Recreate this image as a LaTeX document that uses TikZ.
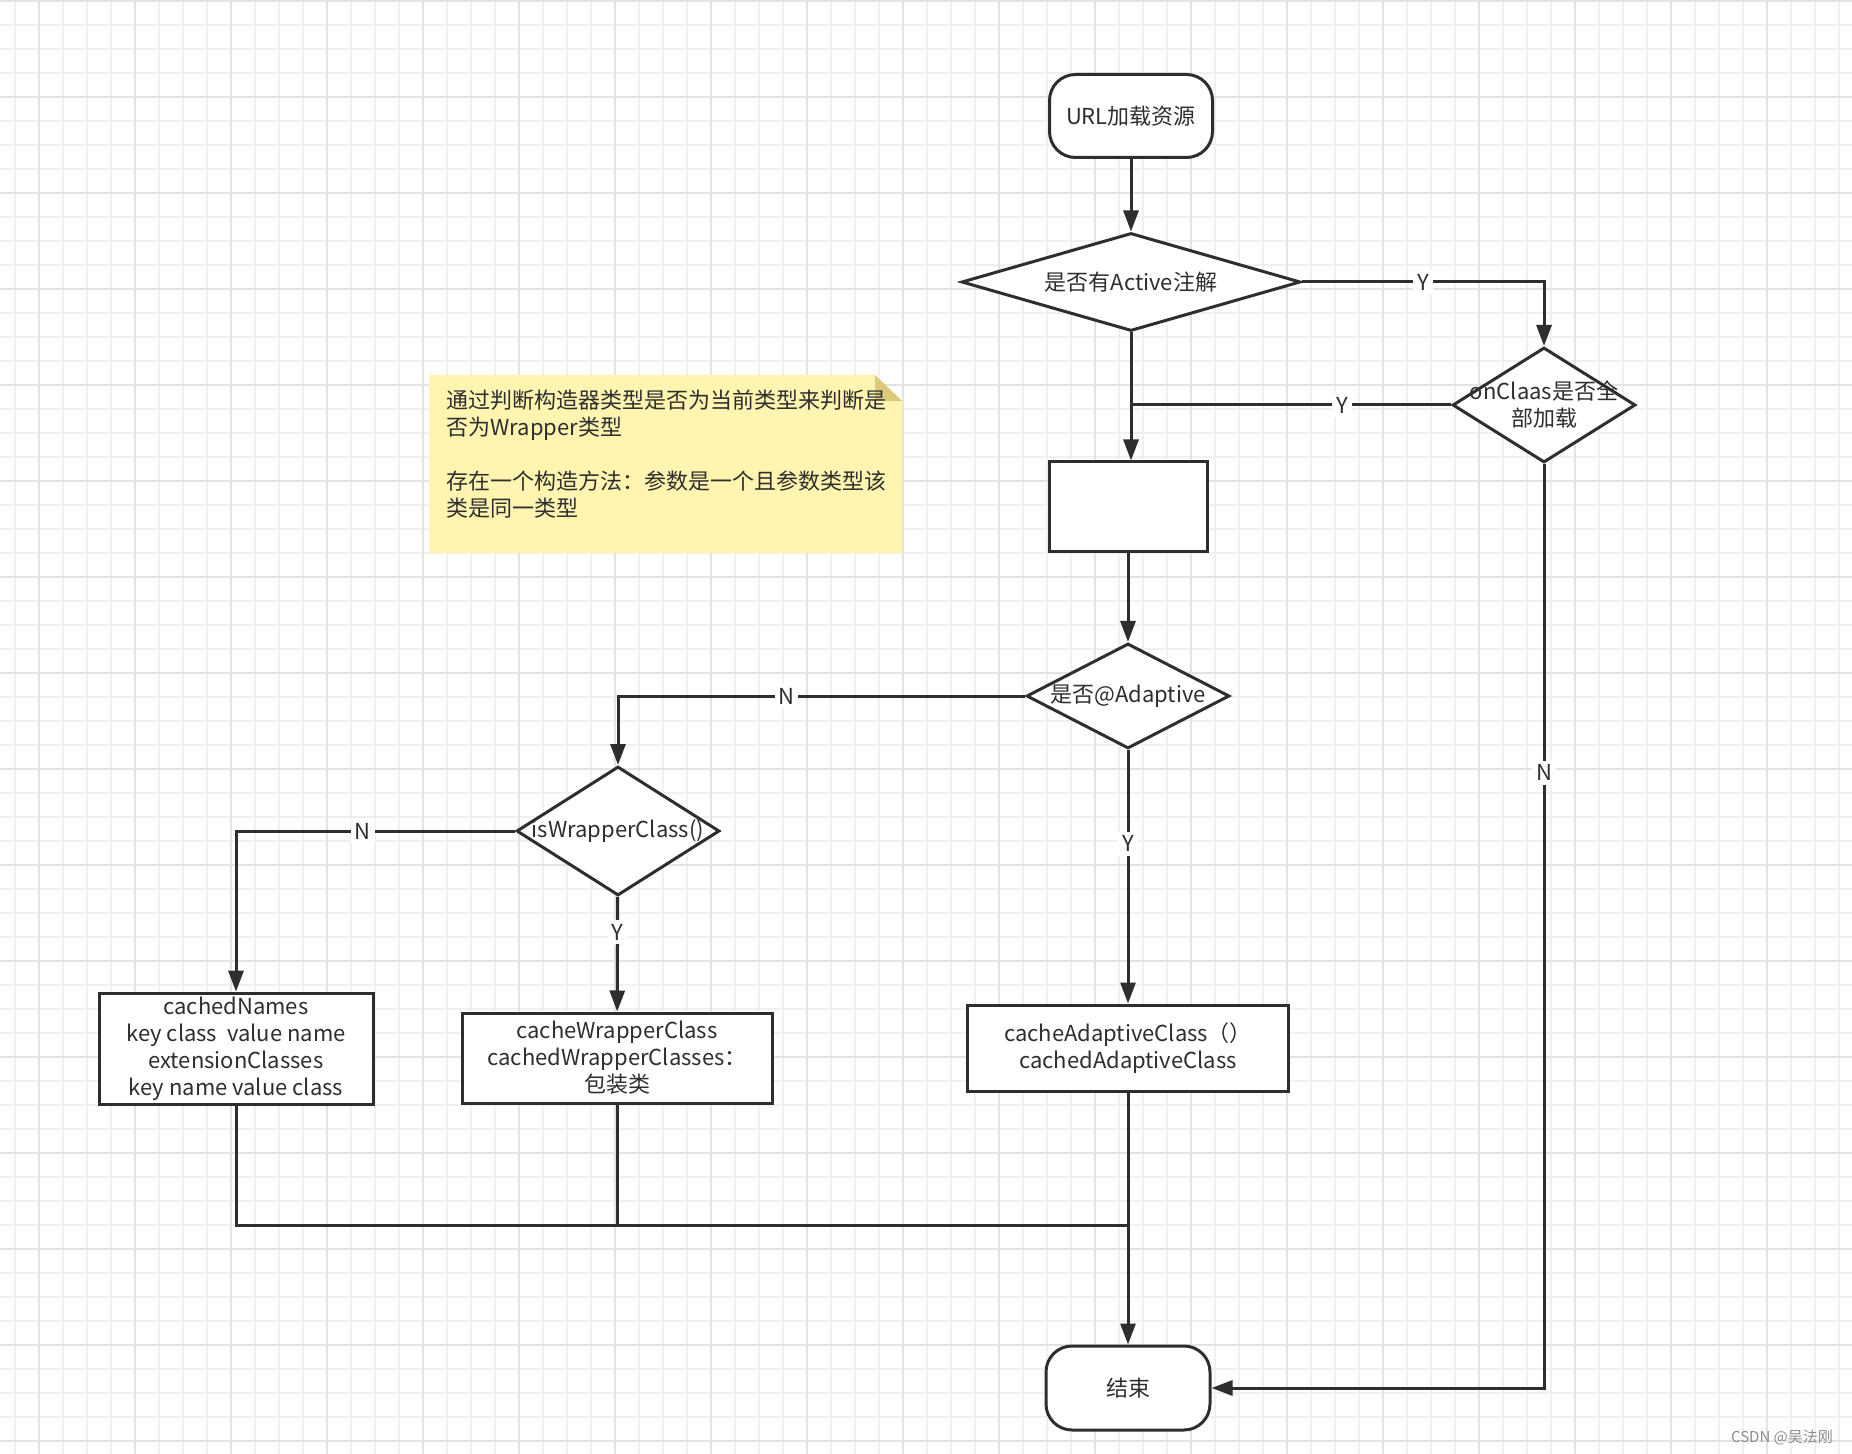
\documentclass[tikz,border=0pt]{standalone}
\usepackage{fontspec}
\setmainfont{Noto Sans CJK SC}
\usepackage{xcolor}
\usetikzlibrary{shapes,arrows.meta,positioning,calc}
\definecolor{linec}{HTML}{2E2E2E}
\definecolor{notefill}{HTML}{FFF4B0}
\definecolor{notefold}{HTML}{DCC97A}

\begin{document}
\begin{tikzpicture}[x=0.5pt,y=-0.5pt,
    font=\fontsize{11}{13.5}\selectfont, text=linec,
    minorgrid/.style={draw=black!6, line width=1pt},
    majorgrid/.style={draw=black!11, line width=1pt},
    shapeline/.style={draw=linec, line width=1.5pt, fill=white, align=center},
    terminal/.style={shapeline, rectangle, rounded corners=13pt},
    process/.style={shapeline, rectangle, inner sep=2pt},
    decision/.style={shapeline, diamond, inner sep=0pt},
    inside/.style={label={[align=center, inner sep=0pt]center:#1}},
    flow/.style={draw=linec, line width=1.5pt, -{Triangle[length=10.5pt,width=7.5pt]}},
    joinline/.style={draw=linec, line width=1.5pt},
    lbl/.style={fill=white, inner sep=2pt}]
    \useasboundingbox (0,0) rectangle (1852,1454);

    % Grid
    \fill [white] (0,0) rectangle (1852,1454);
    \foreach \gx in {15,39,...,1852} \draw [minorgrid] (\gx,0) -- (\gx,1454);
    \foreach \gy in {1,25,...,1454} \draw [minorgrid] (0,\gy) -- (1852,\gy);
    \foreach \gx in {39,135,...,1852} \draw [majorgrid] (\gx,0) -- (\gx,1454);
    \foreach \gy in {1,97,...,1454} \draw [majorgrid] (0,\gy) -- (1852,\gy);

    % Note
    \fill [notefill] (429,375) -- (875,375) -- (902,401) -- (902,553) -- (429,553) -- cycle;
    \fill [notefold] (875,375) -- (875,401) -- (902,401) -- cycle;
    \node [anchor=north west, align=left, inner sep=0pt] (note) at (446,390)
        {通过判断构造器类型是否为当前类型来判断是\\否为Wrapper类型\\[13.5pt]存在一个构造方法：参数是一个且参数类型该\\类是同一类型};

    % Nodes
    \node [terminal, minimum width=81.5pt, minimum height=41.5pt] (url) at (1131,116) {URL加载资源};
    \node [decision, minimum width=169.5pt, minimum height=49pt, inside={是否有Active注解}] (active) at (1131,282) {};
    \node [decision, minimum width=91.5pt, minimum height=57.5pt, inside={onClaas是否全\\部加载}] (onclaas) at (1544,405) {};
    \node [process, minimum width=79pt, minimum height=45pt] (blank) at (1128,507) {};
    \node [decision, minimum width=101.5pt, minimum height=52.5pt, inside={是否@Adaptive}] (adaptive) at (1128,696) {};
    \node [decision, minimum width=101.5pt, minimum height=64.5pt, inside={isWrapperClass()}] (iswrap) at (618,831) {};
    \node [process, minimum width=137pt, minimum height=54.5pt] (names) at (236,1049)
        {cachedNames\\key class\ \ value name\\extensionClasses\\key name value class};
    \node [process, minimum width=155pt, minimum height=45pt] (wrapbox) at (617,1058)
        {cacheWrapperClass\\cachedWrapperClasses：\\包装类};
    \node [process, minimum width=160.5pt, minimum height=43pt] (adaptbox) at (1128,1048)
        {cacheAdaptiveClass（）\\cachedAdaptiveClass};
    \node [terminal, minimum width=82pt, minimum height=42pt] (end) at (1128,1388) {结束};
    \coordinate (merge) at (end.north |- 0,1225);

    % Connectors
    \draw [flow] (url) -- (active);
    \draw [flow] (active.east) -| node [lbl, pos=0.25] {Y} (onclaas.north);
    \draw [flow] (active.south) -- (active.south |- blank.north);
    \draw [joinline] (onclaas.west) -- node [lbl, pos=0.34] {Y} (onclaas.west -| active.south);
    \draw [flow] (blank) -- (adaptive);
    \draw [flow] (adaptive.west) -| node [lbl, pos=0.293] {N} (iswrap.north);
    \draw [flow] (adaptive) -- node [lbl, pos=0.37] {Y} (adaptbox);
    \draw [flow] (iswrap.west) -| node [lbl, pos=0.273] {N} (names.north);
    \draw [flow] (iswrap) -- node [lbl, pos=0.31] {Y} (wrapbox);
    \draw [flow] (onclaas.south) |- node [lbl, pos=0.167] {N} (end.east);
    \draw [joinline] (names.south) |- (merge);
    \draw [joinline] (wrapbox.south) -- (wrapbox.south |- merge);
    \draw [flow] (adaptbox.south) -- (end.north);

    % Watermark
    \node [text=black!45, font=\fontsize{7.5}{9}\selectfont] (mark) at (1782,1437) {CSDN @吴法刚};
\end{tikzpicture}
\end{document}
